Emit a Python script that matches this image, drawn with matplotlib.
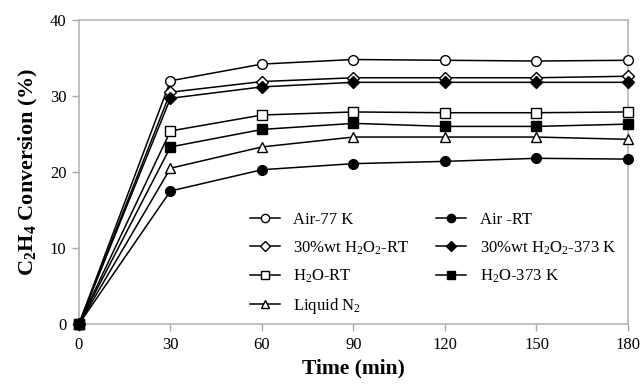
import matplotlib
matplotlib.use('Agg')
import matplotlib.pyplot as plt

plt.rcParams['font.family'] = ['Liberation Serif', 'DejaVu Serif']
plt.rcParams['mathtext.fontset'] = 'custom'
plt.rcParams['mathtext.rm'] = 'Liberation Serif'
plt.rcParams['mathtext.it'] = 'Liberation Serif:italic'
plt.rcParams['mathtext.bf'] = 'Liberation Serif:bold'

# time points (min)
time = [0, 30, 60, 90, 120, 150, 180]

# C2H4 conversion (%) for each treatment
air_77k = [0, 32.0, 34.2, 34.8, 34.7, 34.6, 34.7]
air_rt = [0, 17.5, 20.3, 21.1, 21.4, 21.8, 21.7]
h2o2_rt = [0, 30.5, 31.9, 32.4, 32.4, 32.4, 32.6]
h2o2_373k = [0, 29.7, 31.2, 31.8, 31.8, 31.8, 31.8]
h2o_rt = [0, 25.4, 27.5, 27.9, 27.8, 27.8, 27.9]
h2o_373k = [0, 23.3, 25.6, 26.4, 26.0, 26.0, 26.3]
liquid_n2 = [0, 20.5, 23.3, 24.6, 24.6, 24.6, 24.3]

labels = ['Air-77 K', '30%wt H$_2$O$_2$-RT', 'H$_2$O-RT', 'Liquid N$_2$',
          'Air -RT', '30%wt H$_2$O$_2$-373 K', 'H$_2$O-373 K']
xticks = [0, 30, 60, 90, 120, 150, 180]
yticks = [0, 10, 20, 30, 40]

series = [air_77k, h2o2_rt, h2o_rt, liquid_n2, air_rt, h2o2_373k, h2o_373k]
markers = ['o', 'D', 's', '^', 'o', 'D', 's']
faces = ['white', 'white', 'white', 'white', 'black', 'black', 'black']
sizes = [7, 6, 7, 7.5, 7, 6, 7]

fig = plt.figure(figsize=(6.41, 3.86), dpi=100)
ax = fig.add_axes([0.1232, 0.1606, 0.8565, 0.7876])

for vals, m, fc, ms, lab in zip(series, markers, faces, sizes, labels):
    ax.plot(time, vals, color='black', lw=1.1, marker=m, markersize=ms,
            markerfacecolor=fc, markeredgecolor='black', markeredgewidth=1.0,
            label=lab, clip_on=False, zorder=3)

ax.set_xlim(0, 180)
ax.set_ylim(0, 40)
ax.set_xticks(xticks)
ax.set_yticks(yticks)
ax.tick_params(direction='out', length=5, width=1, color='#a8a8a8',
               labelsize=12, pad=4)
for s in ax.spines.values():
    s.set_color('#b4b4b4')
    s.set_linewidth(1.2)

ax.set_xlabel('Time (min)', fontsize=15.5, fontweight='bold', labelpad=4)
ax.set_ylabel(r'C$_\mathbf{2}$H$_\mathbf{4}$ Conversion (%)', fontsize=16,
              fontweight='bold', labelpad=7)

ax.legend(loc='upper left', bbox_to_anchor=(250 / 641, 1 - 212 / 386),
          bbox_transform=fig.transFigure, ncol=2, frameon=False, fontsize=12,
          borderpad=0, borderaxespad=0, handlelength=1.8, handletextpad=0.8,
          columnspacing=1.6, labelspacing=0.67, markerscale=0.85)

fig.savefig('out.png', dpi=100)
